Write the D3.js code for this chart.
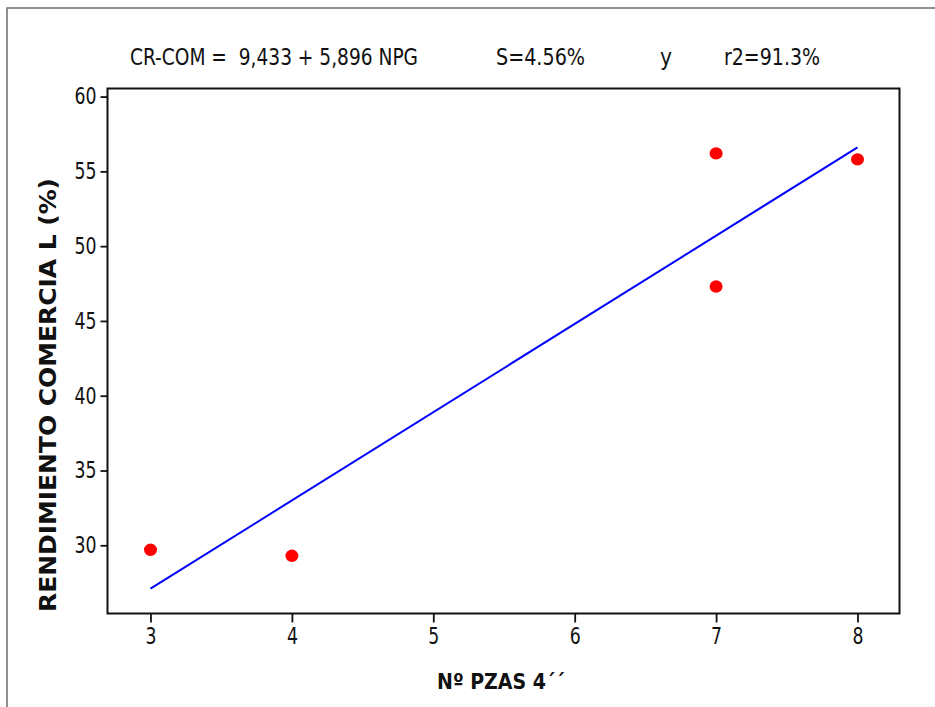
<!DOCTYPE html>
<html>
<head>
<meta charset="utf-8">
<script src="https://cdn.jsdelivr.net/npm/d3@7"></script>
<style>
  html, body { margin: 0; padding: 0; background: #fff; }
  svg { display: block; }
  text { font-family: "DejaVu Sans Condensed", "DejaVu Sans", sans-serif; font-stretch: condensed; fill: #111; }
</style>
</head>
<body>
<script>
// ---- data ----
const numPiezas = [3, 4, 7, 7, 8];
const rendimiento = [29.7, 29.3, 56.2, 47.3, 55.8];
const fitX = [3, 8];
const fitY = [27.1, 56.6];
const xTicks = [3, 4, 5, 6, 7, 8];
const yTicks = [30, 35, 40, 45, 50, 55, 60];
const titleParts = ["CR-COM =  9,433 + 5,896 NPG", "S=4.56%", "y", "r2=91.3%"];
const xLabel = "Nº PZAS 4´´";
const yLabel = "RENDIMIENTO COMERCIA L (%)";

const W = 935, H = 707;
const plot = { left: 107.5, right: 899.5, top: 88.5, bottom: 613.5 };

const svg = d3.select("body").append("svg").attr("width", W).attr("height", H);

// outer frame
svg.append("rect").attr("x", 7).attr("y", 8).attr("width", W + 10).attr("height", H + 10)
  .attr("fill", "none").attr("stroke", "#6e6e6e").attr("stroke-width", 1.5);

const x = d3.scaleLinear().domain([2.696, 8.297]).range([plot.left, plot.right]);
const y = d3.scaleLinear().domain([25.44, 60.54]).range([plot.bottom, plot.top]);

// plot box
svg.append("rect").attr("x", plot.left).attr("y", plot.top)
  .attr("width", plot.right - plot.left).attr("height", plot.bottom - plot.top)
  .attr("fill", "none").attr("stroke", "#111").attr("stroke-width", 2);

// axes
const xAxis = svg.append("g").attr("transform", `translate(0,${plot.bottom})`)
  .call(d3.axisBottom(x).tickValues(xTicks).tickSize(9).tickPadding(5).tickFormat(d3.format("d")));
const yAxis = svg.append("g").attr("transform", `translate(${plot.left},0)`)
  .call(d3.axisLeft(y).tickValues(yTicks).tickSize(7).tickPadding(4).tickFormat(d3.format("d")));
[xAxis, yAxis].forEach(g => {
  g.select(".domain").remove();
  g.selectAll(".tick line").attr("stroke", "#111").attr("stroke-width", 1.8);
  g.selectAll(".tick text").attr("font-size", 23).attr("fill", "#111")
    .attr("textLength", d => String(d).length * 11).attr("lengthAdjust", "spacingAndGlyphs")
    .style("font-family", '"DejaVu Sans Condensed", "DejaVu Sans", sans-serif');
});
xAxis.selectAll(".tick text").attr("dy", "0.71em");

// fit line
const line = d3.line().x(d => x(d[0])).y(d => y(d[1]));
svg.append("path").datum(fitX.map((v, i) => [v, fitY[i]]))
  .attr("d", line).attr("fill", "none").attr("stroke", "#0000ff").attr("stroke-width", 2);

// points
svg.selectAll("ellipse.pt").data(numPiezas.map((v, i) => [v, rendimiento[i]]))
  .enter().append("ellipse").attr("class", "pt")
  .attr("cx", d => x(d[0])).attr("cy", d => y(d[1]))
  .attr("rx", 6.5).attr("ry", 6.2).attr("fill", "#ff0000");

// title
const titlePos = [[130, 288], [496, 89], [660, 12], [724, 96]];
titleParts.forEach((t, i) => {
  svg.append("text").attr("x", titlePos[i][0]).attr("y", 65)
    .attr("font-size", 23).attr("textLength", titlePos[i][1]).attr("lengthAdjust", "spacingAndGlyphs")
    .style("white-space", "pre").text(t);
});

// axis labels
svg.append("text").attr("x", 437).attr("y", 689).attr("font-size", 22).attr("font-weight", "bold")
  .attr("textLength", 128).attr("lengthAdjust", "spacingAndGlyphs").text(xLabel);

svg.append("text").attr("transform", "translate(56,612) rotate(-90)")
  .attr("font-size", 23).attr("font-weight", "bold")
  .attr("textLength", 434).attr("lengthAdjust", "spacingAndGlyphs").text(yLabel);
</script>
</body>
</html>
